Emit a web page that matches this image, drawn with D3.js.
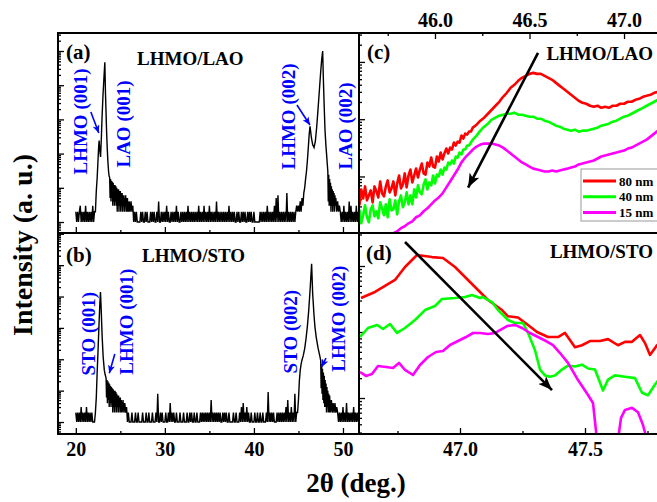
<!DOCTYPE html>
<html>
<head>
<meta charset="utf-8">
<script src="https://cdn.jsdelivr.net/npm/d3@7"></script>
<style>
  html, body { margin: 0; padding: 0; background: #fff; }
  svg text { font-family: "Liberation Serif", "Times New Roman", serif; font-weight: bold; }
</style>
</head>
<body>
<svg id="fig" width="657" height="502"></svg>
<script>
// ---------------- XRD theta-2theta scans (counts), panels (a) and (b) ----------------
// Background counts, one digit per 0.1 deg starting at 20.0 deg ("." = covered by a peak profile)
const scanStart = 20.0;
const scanStep = 0.1;
const bgLAO = [
  "2121231212", "1312121213", "12........", "..........", "..........",
  "..........", ".....12121", "1112121121", "2111212121", "1214112121",
  "2131211212", "1213121121", "2121213121", "2121212131", "2121312121",
  "3121212141", "2121212121", "2131212121", "1212112121", "2112121211",
  "2111111212", "1212131212", "1213151612", "1212121712", "1212121...",
  "..........", "..........", "..........", "..........", ".......212",
  "1312121413", "1212131212", "1"
];
const bgSTO = [
  "2121213121", "2131212121", "1.........", "..........", "..........",
  "........12", "1112111211", "2111121112", "1121112111", "2181121211",
  "1211214121", "2112111211", "1211121121", "2112112111", "2121212121",
  "2151212121", "2121121212", "1121111211", "2111213141", "2131211211",
  "1211211211", "2111219121", "2121112121", "2121213151", "213121812.",
  "..........", "..........", "..........", "..........", "....212121",
  "3121412121", "2131212121", "2"
];
// Peak profiles [2theta, counts]
const peakLAO001 = [[22.2,2],[22.25,4],[22.3,8],[22.4,20],[22.5,70],[22.57,170],[22.62,240],[22.7,120],[22.78,80],
  [22.86,250],[22.95,1200],[23.05,5000],[23.15,15000],[23.26,47000],[23.33,6000],[23.4,1500],[23.45,500],[23.52,160],
  [23.6,60],[23.68,30],[23.74,22],[23.8,20],[23.85,5],[23.9,18],[23.95,4],[24.0,16],[24.05,5],[24.1,15],[24.15,3],
  [24.2,14],[24.25,4],[24.3,12],[24.35,3],[24.4,12],[24.45,4],[24.5,11],[24.55,3],[24.6,10],[24.65,2],[24.7,9],
  [24.75,3],[24.8,9],[24.85,2],[24.9,8],[24.95,3],[25.0,8],[25.05,2],[25.1,7],[25.15,3],[25.2,7],[25.25,2],[25.3,6],
  [25.35,3],[25.4,6],[25.45,2],[25.5,5],[25.55,3],[25.6,6],[25.65,2],[25.7,5],[25.75,2],[25.8,5],[25.85,2],[25.9,4],
  [25.95,2],[26.0,4],[26.1,2],[26.2,4],[26.3,2],[26.4,3]];
const peakLAO002 = [[44.7,2],[44.8,3],[44.9,2],[45.0,3],[45.1,2],[45.2,4],[45.3,2],[45.4,5],[45.5,3],[45.6,7],
  [45.7,10],[45.8,18],[45.9,30],[46.0,60],[46.1,140],[46.2,350],[46.3,630],[46.45,300],[46.6,180],[46.75,150],
  [46.9,230],[47.05,600],[47.2,2000],[47.35,7000],[47.5,25000],[47.62,60000],[47.72,100000],[47.8,15000],
  [47.88,3000],[47.98,500],[48.08,180],[48.18,80],[48.25,45],[48.3,30],[48.35,4],[48.4,24],[48.45,3],[48.5,18],
  [48.55,3],[48.6,14],[48.65,2],[48.7,11],[48.75,3],[48.8,9],[48.85,2],[48.9,8],[48.95,3],[49.0,7],[49.05,2],
  [49.1,6],[49.15,3],[49.2,5],[49.3,2],[49.4,4],[49.5,2],[49.6,3]];
const peakSTO001 = [[22.1,1],[22.2,2],[22.3,6],[22.4,40],[22.5,200],[22.6,1200],[22.7,6000],[22.77,14000],
  [22.85,4000],[22.95,600],[23.07,120],[23.2,45],[23.3,32],[23.4,25],[23.45,6],[23.5,22],[23.55,4],[23.6,20],
  [23.65,5],[23.7,18],[23.75,3],[23.8,16],[23.85,4],[23.9,14],[23.95,3],[24.0,13],[24.05,4],[24.1,12],[24.15,2],
  [24.2,11],[24.25,3],[24.3,10],[24.35,2],[24.4,10],[24.45,3],[24.5,9],[24.55,2],[24.6,8],[24.65,3],[24.7,7],
  [24.75,2],[24.8,7],[24.85,2],[24.9,6],[24.95,3],[25.0,6],[25.05,2],[25.1,5],[25.2,2],[25.3,5],[25.4,2],
  [25.5,4],[25.6,2],[25.7,3]];
const peakSTO002 = [[44.9,2],[45.0,5],[45.1,20],[45.2,45],[45.3,70],[45.4,95],[45.54,130],[45.7,220],[45.85,450],
  [46.0,1100],[46.15,3500],[46.3,15000],[46.48,110000],[46.6,12000],[46.75,2500],[46.85,1100],[47.0,500],
  [47.2,230],[47.42,120],[47.5,90],[47.55,12],[47.6,70],[47.65,8],[47.7,50],[47.75,5],[47.8,38],[47.85,4],
  [47.9,30],[47.95,3],[48.0,22],[48.05,3],[48.1,17],[48.15,2],[48.2,13],[48.25,3],[48.3,10],[48.35,2],[48.4,8],
  [48.45,2],[48.5,7],[48.6,2],[48.7,5],[48.8,2],[48.9,4],[49.0,2],[49.1,4],[49.2,2],[49.3,3]];

// ---------------- (c) LHMO/LAO (002) region, three thicknesses ----------------
const seriesNames = ["80 nm", "40 nm", "15 nm"];
// 45.60-46.19 deg in 0.01 steps, then 46.20-47.18 deg in 0.02 steps
const lao80fine = [31.3,59.4,41.4,67,38.2,46.7,57.1,35.3,67,54.8, 43.1,81.9,50.6,44.9,67,85.3,52.7,61.9,81.9,46.7,
  75.6,104,61.9,72.6,113,64.4,104,132,78.7,104, 138,96.2,132,168,113,108,175,149,214,149,
  143,223,182,262,198,252,308,252,320,296, 391,347,407,391,518,459,561,539,608,608];
const lao80 = [712,802,941,1062,1245,1463,1717,2015,2460,2890, 3530,3981,4675,5280,5720,6185,6440,6185,6185,5720,
  5280,4866,4310,3820,3390,3010,2667,2360,2100,1935, 1860,1717,1650,1717,1580,1650,1580,1717,1717,1860,
  1860,2015,2015,2183,2270,2460,2560,2667,2890,3010];
const lao40fine = [26.7,15.2,21.0,31.3,19.4,15.9,26.7,31.3,20.1,24.6, 18.6,35.3,27.8,21.0,32.6,19.4,39.8,25.6,26.7,38.2,
  21.8,36.7,46.7,28.9,35.3,52.7,32.6,46.7,32.6,59.4, 43.1,69.8,52.7,48.6,72.6,88.8,59.4,78.7,69.8,104,
  75.6,108,100,132,108,143,132,175,162,190, 168,223,214,262,242,296,296,347,347,391];
const lao40 = [440,516,631,740,835,980,1062,1150,1197,1245, 1245,1300,1197,1197,1150,1105,1105,1020,1020,941,
  905,835,770,740,684,657,631,657,606,631, 631,657,684,712,770,802,835,905,941,1020,
  1105,1150,1245,1350,1463,1580,1717,1860,2015,2183];
// 45.60-47.18 deg in 0.02 steps
const lao15 = [4.8,5.4,6.0,6.2,6.9,7.5,8.1,8.8,9.4,10.2, 11.0,12.5,13.5,15.2,16.5,19.4,21,24.7,27.8,32.6,
  38.2,43,50.6,64.4,81.8,104,132,176,215,251, 295,332,360,375,375,375,360,346,319,283,
  251,223,198,176,162,149,137,132,127,122, 122,127,122,127,132,137,143,149,162,169,
  176,183,190,206,223,232,241,251,261,272, 283,307,319,346,375,406,440,496,560,631];

// ---------------- (d) LHMO/STO (002) region ----------------
const sto80 = [[46.604,327],[46.66,404],[46.74,614],[46.78,965],[46.828,1468],[46.888,1365],[46.932,1320],
  [46.98,965],[47.032,614],[47.072,433],[47.112,305],[47.168,215],[47.192,173],[47.232,166],[47.272,128],
  [47.308,100],[47.352,84],[47.392,84],[47.42,97],[47.46,59],[47.488,63],[47.52,73],[47.56,73],[47.592,78],
  [47.632,63],[47.66,71],[47.688,71],[47.72,90],[47.74,68],[47.76,45],[47.788,63],[47.8,66]];
const sto40 = [[46.6,84],[46.632,115],[46.668,128],[46.692,111],[46.72,132],[46.748,97],[46.78,115],[46.82,152],
  [46.86,215],[46.9,248],[46.928,316],[46.98,327],[47.02,339],[47.048,364],[47.08,327],[47.092,339],[47.128,284],
  [47.152,215],[47.192,152],[47.22,137],[47.252,137],[47.272,97],[47.3,53],[47.32,27],[47.34,22],[47.36,21],
  [47.38,22],[47.408,27],[47.432,31],[47.46,30],[47.488,32],[47.512,28],[47.54,27],[47.572,13],[47.592,19],
  [47.62,22],[47.66,21],[47.7,20],[47.728,12],[47.752,11],[47.78,16],[47.8,20]];
const sto15 = [[46.6,24.8],[46.624,21.6],[46.648,23.1],[46.672,30.5],[46.704,29.5],[46.732,28.5],[46.756,34],
  [46.78,26.6],[46.812,22.3],[46.84,31.6],[46.872,41.8],[46.904,49.8],[46.932,51.5],[46.96,63.5],[46.992,73],
  [47.024,84],[47.052,96.6],[47.08,96.6],[47.112,93.3],[47.14,96.6],[47.16,107],[47.188,123],[47.22,128],
  [47.248,115],[47.28,96.6],[47.312,84],[47.344,73],[47.372,63.5],[47.4,48],[47.432,34],[47.472,18.7],
  [47.512,11.1],[47.532,8.4],[47.548,2.3],[47.56,1.0],[47.62,1.0],[47.632,2.3],[47.644,5.0],[47.66,6.6],
  [47.688,7.1],[47.712,6.1],[47.732,3.9],[47.748,2.3],[47.76,1.0],[47.8,1.0]];

// Tick labels
const ticksWide = [20, 30, 40, 50];
const ticksWideMinor = [25, 35, 45];
const ticksC = [46.0, 46.5, 47.0];
const ticksCMinor = [45.75, 46.25, 46.75];
const ticksD = [47.0, 47.5];
const ticksDMinor = [46.75, 47.25, 47.75];

// Peak labels [text, 2theta of text baseline, counts at label centre]
const labelsA = [["LHMO (001)", 21.26, 868], ["LAO (001)", 26.09, 733], ["LHMO (002)", 44.62, 1216], ["LAO (002)", 51.02, 641]];
const labelsB = [["STO (001)", 22.16, 658], ["LHMO (001)", 26.42, 1586], ["STO (002)", 44.84, 762], ["LHMO (002)", 50.23, 1978]];
// Annotation arrows [from 2theta, from counts, to 2theta, to counts]
const arrowsA = [[21.69, 1644, 22.58, 400], [44.83, 2630, 46.29, 686]];
const arrowsB = [[24.38, 147, 23.76, 36], [48.09, 109, 47.58, 56]];
const arrowC = [46.545, 14350, 46.175, 64];
const arrowD = [46.78, 2311, 47.368, 13.2];

// ---------------- layout ----------------
const svg = d3.select("#fig");
const X0 = 58, XM = 359, X1 = 659, Y0 = 33, YM = 233, Y1 = 434;
const colors = ["#ff0000", "#00ff00", "#ff00ff"];
const blue = "#0000ff";

const xWide = d3.scaleLinear().domain([18, 51.8]).range([X0, XM]);
const yA = d3.scaleLog().domain([0.477, 3.36e5]).range([YM, Y0]);
const yB = d3.scaleLog().domain([0.415, 1.06e6]).range([Y1, YM]);
const xC = d3.scaleLinear().domain([45.598, 47.185]).range([XM, X1]);
const yC = d3.scaleLog().domain([10.3, 32000]).range([YM, Y0]);
const xD = d3.scaleLinear().domain([46.596, 47.796]).range([XM, X1]);
const yD = d3.scaleLog().domain([2.85, 3162]).range([Y1, YM]);

const defs = svg.append("defs");
function clip(id, x, y, w, h) {
  defs.append("clipPath").attr("id", id).append("rect").attr("x", x).attr("y", y).attr("width", w).attr("height", h);
  return svg.append("g").attr("clip-path", `url(#${id})`);
}
function arrowMarker(id, color, len, wid) {
  defs.append("marker").attr("id", id).attr("markerUnits", "userSpaceOnUse")
    .attr("viewBox", `0 0 ${len} ${wid}`).attr("refX", len).attr("refY", wid / 2)
    .attr("markerWidth", len).attr("markerHeight", wid).attr("orient", "auto")
    .append("path").attr("d", `M0,0L${len},${wid / 2}L0,${wid}L${len * 0.25},${wid / 2}Z`).attr("fill", color);
}
arrowMarker("headBlack", "#000", 14, 11);
arrowMarker("headBlue", blue, 8, 7);

function assemble(bgChunks, segments) {
  const bg = bgChunks.join("");
  const spans = segments.map(s => [s[0][0], s[s.length - 1][0]]);
  const pts = [];
  for (let i = 0; i < bg.length; i++) {
    if (bg[i] === ".") continue;
    const t = +(scanStart + scanStep * i).toFixed(2);
    if (spans.some(([a, b]) => t >= a - 1e-9 && t <= b + 1e-9)) continue;
    pts.push([t, +bg[i]]);
  }
  segments.forEach(s => s.forEach(p => pts.push(p)));
  return pts.sort((p, q) => p[0] - q[0]);
}

function logTicks(scale) {
  const [a, b] = scale.domain();
  const major = [], minor = [];
  for (let k = Math.floor(Math.log10(a)); k <= Math.ceil(Math.log10(b)); k++) {
    for (let m = 1; m <= 9; m++) {
      const v = m * Math.pow(10, k);
      if (v >= a && v <= b) (m === 1 ? major : minor).push(v);
    }
  }
  return { major, minor };
}

function tickGroup(axis, transform, size) {
  const g = svg.append("g").attr("transform", transform).call(axis.tickSize(size).tickFormat(""));
  g.select(".domain").remove();
  g.selectAll(".tick line").attr("stroke", "#000").attr("stroke-width", 1.3);
  return g;
}

function yTicks(scale, x) {
  const t = logTicks(scale);
  tickGroup(d3.axisLeft(scale).tickValues(t.major), `translate(${x},0)`, -6);
  tickGroup(d3.axisLeft(scale).tickValues(t.minor), `translate(${x},0)`, -3);
}
yTicks(yA, X0); yTicks(yB, X0); yTicks(yC, XM); yTicks(yD, XM);

// x ticks (inward)
tickGroup(d3.axisBottom(xWide).tickValues(ticksWide), `translate(0,${YM})`, -6);
tickGroup(d3.axisBottom(xWide).tickValues(ticksWideMinor), `translate(0,${YM})`, -3);
tickGroup(d3.axisBottom(xWide).tickValues(ticksWide), `translate(0,${Y1})`, -6);
tickGroup(d3.axisBottom(xWide).tickValues(ticksWideMinor), `translate(0,${Y1})`, -3);
tickGroup(d3.axisTop(xC).tickValues(ticksC), `translate(0,${Y0})`, -6);
tickGroup(d3.axisTop(xC).tickValues(ticksCMinor), `translate(0,${Y0})`, -3);
tickGroup(d3.axisBottom(xD).tickValues(ticksD), `translate(0,${Y1})`, -6);
tickGroup(d3.axisBottom(xD).tickValues(ticksDMinor), `translate(0,${Y1})`, -3);

// tick labels
function tickLabels(axis, transform, fmt, pad) {
  const g = svg.append("g").attr("transform", transform)
    .call(axis.tickSize(0).tickPadding(pad).tickFormat(fmt));
  g.select(".domain").remove();
  g.selectAll("text").attr("font-size", 20).attr("fill", "#000")
    .attr("font-family", "Liberation Serif, serif").attr("font-weight", "bold");
}
tickLabels(d3.axisBottom(xWide).tickValues(ticksWide), `translate(0,${Y1})`, d3.format("d"), 8);
tickLabels(d3.axisBottom(xD).tickValues(ticksD), `translate(0,${Y1})`, d3.format(".1f"), 8);
tickLabels(d3.axisTop(xC).tickValues(ticksC), `translate(0,${Y0})`, d3.format(".1f"), 6);

// ---------------- curves ----------------
const gA = clip("clipA", X0, Y0, XM - X0, YM - Y0);
const gB = clip("clipB", X0, YM, XM - X0, Y1 - YM);
const gC = clip("clipC", XM, Y0, X1 - XM, YM - Y0);
const gD = clip("clipD", XM, YM, X1 - XM, Y1 - YM);

const lineA = d3.line().x(d => xWide(d[0])).y(d => yA(d[1]));
const lineB = d3.line().x(d => xWide(d[0])).y(d => yB(d[1]));
gA.append("path").datum(assemble(bgLAO, [peakLAO001, peakLAO002]))
  .attr("d", lineA).attr("fill", "none").attr("stroke", "#000").attr("stroke-width", 1.4);
gB.append("path").datum(assemble(bgSTO, [peakSTO001, peakSTO002]))
  .attr("d", lineB).attr("fill", "none").attr("stroke", "#000").attr("stroke-width", 1.4);

const fineTheta = d3.range(lao80fine.length).map(i => +(45.60 + 0.01 * i).toFixed(2));
const coarseTheta = d3.range(lao80.length).map(i => +(46.20 + 0.02 * i).toFixed(2));
const thetaC15 = d3.range(lao15.length).map(i => +(45.60 + 0.02 * i).toFixed(2));
const seriesC = [
  fineTheta.map((t, i) => [t, lao80fine[i]]).concat(coarseTheta.map((t, i) => [t, lao80[i]])),
  fineTheta.map((t, i) => [t, lao40fine[i]]).concat(coarseTheta.map((t, i) => [t, lao40[i]])),
  thetaC15.map((t, i) => [t, lao15[i]])
];
const lineC = d3.line().x(d => xC(d[0])).y(d => yC(d[1]));
seriesC.forEach((s, i) => {
  gC.append("path").datum(s).attr("d", lineC).attr("fill", "none")
    .attr("stroke", colors[i]).attr("stroke-width", 2.6).attr("stroke-linejoin", "round");
});
const lineD = d3.line().x(d => xD(d[0])).y(d => yD(d[1]));
[sto80, sto40, sto15].forEach((s, i) => {
  gD.append("path").datum(s).attr("d", lineD).attr("fill", "none")
    .attr("stroke", colors[i]).attr("stroke-width", 2.6).attr("stroke-linejoin", "round");
});

// ---------------- annotations ----------------
function arrow(g, x, y, a, marker, color, w) {
  g.append("line").attr("x1", x(a[0])).attr("y1", y(a[1])).attr("x2", x(a[2])).attr("y2", y(a[3]))
    .attr("stroke", color).attr("stroke-width", w).attr("marker-end", `url(#${marker})`);
}
arrowsA.forEach(a => arrow(svg, xWide, yA, a, "headBlue", blue, 1.6));
arrowsB.forEach(a => arrow(svg, xWide, yB, a, "headBlue", blue, 1.6));
arrow(svg, xC, yC, arrowC, "headBlack", "#000", 2.6);
arrow(svg, xD, yD, arrowD, "headBlack", "#000", 2.6);

function peakLabels(list, y) {
  list.forEach(([txt, t, c]) => {
    svg.append("text").attr("transform", `translate(${xWide(t)},${y(c)}) rotate(-90)`)
      .attr("text-anchor", "middle").attr("font-size", 19).attr("fill", blue).text(txt);
  });
}
peakLabels(labelsA, yA);
peakLabels(labelsB, yB);

function label(txt, x, y, size, anchor) {
  svg.append("text").attr("x", x).attr("y", y).attr("font-size", size)
    .attr("text-anchor", anchor || "start").attr("fill", "#000").text(txt);
}
label("(a)", 66, 59, 21);
label("LHMO/LAO", 137, 65, 19);
label("(b)", 66, 262, 21);
label("LHMO/STO", 142, 262, 19);
label("(c)", 367, 59, 21);
label("LHMO/LAO", 653, 60, 19, "end");
label("(d)", 366, 260, 21);
label("LHMO/STO", 653, 258, 19, "end");

// legend
const lg = svg.append("g");
lg.append("rect").attr("x", 581).attr("y", 169).attr("width", 90).attr("height", 52)
  .attr("fill", "#fff").attr("stroke", "#999").attr("stroke-width", 1);
seriesNames.forEach((n, i) => {
  const yy = 181 + i * 15.7;
  lg.append("line").attr("x1", 583).attr("x2", 616).attr("y1", yy).attr("y2", yy)
    .attr("stroke", colors[i]).attr("stroke-width", 3);
  lg.append("text").attr("x", 619).attr("y", yy + 4.5).attr("font-size", 13).attr("fill", "#000").text(n);
});

// axis titles
svg.append("text").attr("transform", "translate(32,245) rotate(-90)").attr("text-anchor", "middle")
  .attr("font-size", 28).attr("fill", "#000").text("Intensity (a. u.)");
svg.append("text").attr("x", 356).attr("y", 492).attr("text-anchor", "middle")
  .attr("font-size", 27).attr("fill", "#000").text("2θ (deg.)");

// frames
[[X0, Y0, XM, YM], [X0, YM, XM, Y1], [XM, Y0, X1, YM], [XM, YM, X1, Y1]].forEach(([a, b, c, d]) => {
  svg.append("rect").attr("x", a).attr("y", b).attr("width", c - a).attr("height", d - b)
    .attr("fill", "none").attr("stroke", "#000").attr("stroke-width", 2);
});
</script>
</body>
</html>
